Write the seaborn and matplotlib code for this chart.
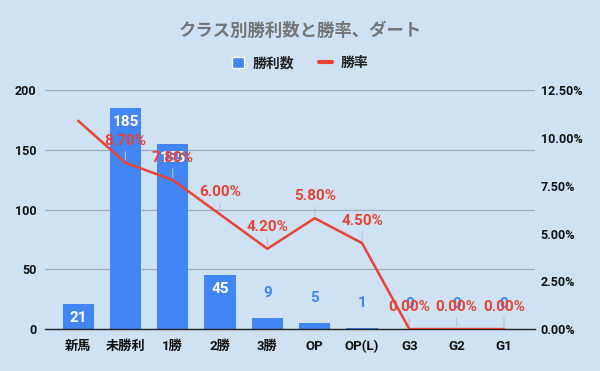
import numpy as np
import matplotlib.pyplot as plt
import matplotlib.transforms as mtrans
import seaborn as sb
from matplotlib.lines import Line2D
from matplotlib.patches import Patch

# DATA
#-----------------------------------
classes = ["新馬", "未勝利", "1勝", "2勝", "3勝", "OP", "OP(L)", "G3", "G2", "G1"]
wins = [21, 185, 155, 45, 9, 5, 1, 0, 0, 0]
win_rate = [10.9, 8.7, 7.8, 6.0, 4.2, 5.8, 4.5, 0.0, 0.0, 0.0]
rate_labels = [None, "8.70%", "7.80%", "6.00%", "4.20%", "5.80%", "4.50%", "0.00%", "0.00%", "0.00%"]

bg = "#cfe2f3"
blue = "#4285f4"
red = "#ea4335"

sb.set_theme(style="white")
plt.rcParams["font.family"] = ["Roboto", "Noto Sans CJK JP", "DejaVu Sans"]

fig = plt.figure(figsize=(6, 3.71), dpi=100, facecolor=bg)
ax = fig.add_axes([0.075, 0.113, 0.817, 0.644])
ax.set_facecolor(bg)

# BARS
#-----------------------------------
x = np.arange(len(classes))
sb.barplot(x=x, y=wins, color=blue, saturation=1, width=0.66, linewidth=0, ax=ax, zorder=2)
ax.set_xlim(-0.7, 9.66)
ax.set_ylim(0, 200)
ax.set_yticks([0, 50, 100, 150, 200])
ax.set_xticks(x)
ax.set_xticklabels(classes)
ax.grid(axis="y", color="#9fabb8", linewidth=0.9, zorder=0)
ax.set_axisbelow(True)
for s in ["top", "right", "left"]:
    ax.spines[s].set_visible(False)
ax.spines["bottom"].set_color("#222222")
ax.spines["bottom"].set_linewidth(1)
ax.tick_params(axis="y", length=0, pad=6, labelsize=9)
ax.tick_params(axis="x", length=0, pad=8, labelsize=9.5)
for lab in ax.get_xticklabels() + ax.get_yticklabels():
    lab.set_fontweight("bold")
    lab.set_color("#111111")

inside = mtrans.offset_copy(ax.transData, fig=fig, x=0, y=-10, units="points")
above = mtrans.offset_copy(ax.transData, fig=fig, x=0, y=18, units="points")
for i, v in enumerate(wins):
    if v >= 20:
        ax.text(i, v, str(v), transform=inside, ha="center", va="center",
                color="white", fontsize=11, fontweight="bold", zorder=5)
    else:
        ax.text(i, v, str(v), transform=above, ha="center", va="center",
                color=blue, fontsize=11, fontweight="bold", zorder=3)

# LINE
#-----------------------------------
ax2 = ax.twinx()
sb.lineplot(x=x, y=win_rate, color=red, linewidth=1.8, ax=ax2, zorder=4)
ax2.set_ylim(0, 12.5)
ax2.set_yticks([0, 2.5, 5, 7.5, 10, 12.5])
ax2.set_yticklabels([f"{t:.2f}%" for t in [0, 2.5, 5, 7.5, 10, 12.5]])
for s in ["top", "right", "left", "bottom"]:
    ax2.spines[s].set_visible(False)
ax2.tick_params(length=0, pad=4, labelsize=9)
for lab in ax2.get_yticklabels():
    lab.set_fontweight("bold")
    lab.set_color("#111111")
ax2.set_ylabel("")

lead = mtrans.offset_copy(ax2.transData, fig=fig, x=0, y=10, units="points")
rate_pos = mtrans.offset_copy(ax2.transData, fig=fig, x=0, y=16, units="points")
for i, (v, t) in enumerate(zip(win_rate, rate_labels)):
    if t is None:
        continue
    ax2.annotate("", (i, v), xytext=(0, 10), textcoords="offset points",
                 arrowprops=dict(arrowstyle="-", color="#b7c3cf", lw=0.8),
                 annotation_clip=False)
    ax2.text(i, v, t, transform=rate_pos, ha="center", va="center",
             color=red, fontsize=11, fontweight="bold", zorder=6)

# TITLE / LEGEND
#-----------------------------------
fig.text(0.5, 0.918, "クラス別勝利数と勝率、ダート", ha="center", va="center",
         fontsize=12.5, fontweight="bold", color="#757575")
handles = [Patch(facecolor=blue, label="勝利数"),
           Line2D([0], [0], color=red, linewidth=3, label="勝率")]
leg = fig.legend(handles=handles, loc="center", bbox_to_anchor=(0.5, 0.83), ncol=2,
                 frameon=False, fontsize=10, handlelength=0.9, handleheight=0.9,
                 columnspacing=1.8, handletextpad=0.6)
for t in leg.get_texts():
    t.set_fontweight("bold")
    t.set_color("#222222")

plt.savefig("out.png", dpi=100, facecolor=bg)
